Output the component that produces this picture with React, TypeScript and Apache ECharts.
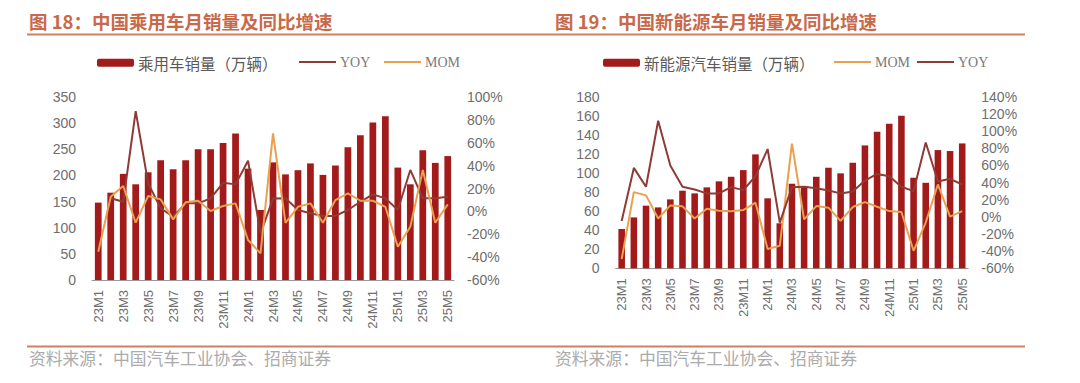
import React, { useEffect, useRef } from "react";
import * as echarts from "echarts";

const months = [
  "23M1", "23M2", "23M3", "23M4", "23M5", "23M6", "23M7", "23M8", "23M9", "23M10", "23M11", "23M12",
  "24M1", "24M2", "24M3", "24M4", "24M5", "24M6", "24M7", "24M8", "24M9", "24M10", "24M11", "24M12",
  "25M1", "25M2", "25M3", "25M4", "25M5",
];

// Figure 18: passenger car sales (10k units), YOY %, MOM %
const carSales = [148, 167, 203, 183, 206, 229, 212, 229, 250, 250, 262, 280, 213, 134, 225, 202, 210, 223, 201, 219, 254, 277, 301, 313, 215, 183, 248, 224, 237];
const carYoy = [null, 11.4, 8.4, 87.7, 24.5, 2.7, -4.6, 7, 7, 11.4, 25, 23.6, 44.3, -19.2, 11.2, 11.4, 1.2, -1.7, -4, -4, 1.2, 8.4, 14.9, 11.4, 1.2, 36.2, 11.4, 11.4, 12.8];
const carMom = [-35.3, 12.8, 22.2, -9.9, 13.4, 10.5, -7, 7.9, 9.3, 0.3, 4.7, 7, -25, -36.7, 68.2, -10, 4, 7, -10, 9.9, 15.8, 9.3, 9.3, 4, -30.9, -13.5, 36.2, -10, 6.1];

// Figure 19: NEV sales (10k units), MOM %, YOY %
const nevSales = [41.2, 53.4, 65.7, 63.9, 72.3, 81.4, 78.6, 84.9, 91.2, 96, 103, 119.5, 73.4, 47.2, 88.7, 85.5, 96, 105.5, 99.6, 110.7, 128.9, 143.2, 151.6, 160, 95, 89.7, 124, 123, 131];
const nevMom = [-49.2, 28.8, 25, -2, 13.3, 12.2, -2, 9.5, 7.2, 6.4, 7.9, 16.5, -37.6, -33.8, 85.2, -2.9, 12.5, 10.7, -4.8, 11.4, 17.2, 11.8, 6.7, 5.6, -39.6, -6.7, 37.7, 0.3, 6.7];
const nevYoy = [-4.8, 57, 35, 112, 59.7, 35, 31.9, 27.3, 27.3, 34.6, 31.1, 47.3, 79, -6.7, 34.6, 35, 33.4, 30.7, 27.3, 29.6, 42.3, 50, 47.3, 35, 30, 86.7, 41.2, 44.3, 37.7];

const titleLeft = "图 18：中国乘用车月销量及同比增速";
const titleRight = "图 19：中国新能源车月销量及同比增速";
const source = "资料来源：中国汽车工业协会、招商证券";
const barNameLeft = "乘用车销量（万辆）";
const barNameRight = "新能源汽车销量（万辆）";

const BAR = "#a31a1a";
const YOY = "#8e3b36";
const MOM = "#e9a04f";
const ACCENT = "#c8694a";
const LINE = "#d0805f";
const LABEL = "#6e6e6e";

export default function App() {
  const ref = useRef<HTMLDivElement>(null);
  useEffect(() => {
    if (!ref.current) return;
    const chart = echarts.init(ref.current, null, { renderer: "svg" });

    const xAxisBase = (gridIndex: number) => ({
      type: "category",
      gridIndex,
      data: months,
      boundaryGap: true,
      axisLine: { lineStyle: { color: "#999", width: 1 } },
      axisTick: { inside: true, length: 4, interval: 1, lineStyle: { color: "#999" } },
      axisLabel: {
        rotate: 90,
        interval: 1,
        fontSize: 13,
        color: LABEL,
        margin: 10,
        fontFamily: "Liberation Sans, Arial, sans-serif",
      },
      splitLine: { show: false },
    });
    const yAxisBase = (gridIndex: number, min: number, max: number, pct: boolean, right: boolean) => ({
      type: "value",
      gridIndex,
      min,
      max,
      interval: 20,
      position: right ? "right" : "left",
      splitLine: { show: false },
      axisLine: { show: false },
      axisTick: { show: false },
      axisLabel: {
        fontSize: 14,
        color: LABEL,
        margin: right ? 13 : 16,
        fontFamily: "Liberation Sans, Arial, sans-serif",
        formatter: pct ? "{value}%" : "{value}",
      },
    });

    const legendItem = (left: number, name: string, isLine: boolean) => ({
      left,
      top: 55,
      padding: 0,
      itemWidth: 37,
      itemHeight: 8,
      itemGap: 4,
      selectedMode: false,
      data: [isLine ? { name, itemStyle: { opacity: 0 } } : { name }],
      textStyle: isLine
        ? { fontSize: 14, color: "#7a7a7a", fontFamily: "Liberation Serif, serif", padding: [0, 0, 0, -1] }
        : { fontSize: 15.5, color: "#595959", fontFamily: "Noto Sans CJK SC, sans-serif", padding: [0, 0, 0, -1] },
    });

    const y1 = yAxisBase(0, 0, 350, false, false) as any;
    y1.interval = 50;

    chart.setOption({
      animation: false,
      grid: [
        { left: 92, top: 97, width: 362, height: 183 },
        { left: 615.6, top: 96.7, width: 352.7, height: 171.6 },
      ],
      legend: [
        legendItem(97, barNameLeft, false),
        legendItem(298, "YOY", true),
        legendItem(383, "MOM", true),
        legendItem(603, barNameRight, false),
        legendItem(833, "MOM", true),
        legendItem(916, "YOY", true),
      ],
      xAxis: [xAxisBase(0), xAxisBase(1)],
      yAxis: [
        y1,
        yAxisBase(0, -60, 100, true, true),
        yAxisBase(1, 0, 180, false, false),
        yAxisBase(1, -60, 140, true, true),
      ],
      series: [
        {
          name: barNameLeft,
          type: "bar",
          xAxisIndex: 0,
          yAxisIndex: 0,
          data: carSales,
          barWidth: "54%",
          itemStyle: { color: BAR },
        },
        {
          name: "YOY",
          type: "line",
          xAxisIndex: 0,
          yAxisIndex: 1,
          data: carYoy,
          symbol: "none",
          lineStyle: { color: YOY, width: 2 },
          itemStyle: { color: YOY },
        },
        {
          name: "MOM",
          type: "line",
          xAxisIndex: 0,
          yAxisIndex: 1,
          data: carMom,
          symbol: "none",
          lineStyle: { color: MOM, width: 2 },
          itemStyle: { color: MOM },
        },
        {
          name: barNameRight,
          type: "bar",
          xAxisIndex: 1,
          yAxisIndex: 2,
          data: nevSales,
          barWidth: "54%",
          itemStyle: { color: BAR },
        },
        {
          name: "MOM",
          type: "line",
          xAxisIndex: 1,
          yAxisIndex: 3,
          data: nevMom,
          symbol: "none",
          lineStyle: { color: MOM, width: 2 },
          itemStyle: { color: MOM },
        },
        {
          name: "YOY",
          type: "line",
          xAxisIndex: 1,
          yAxisIndex: 3,
          data: nevYoy,
          symbol: "none",
          lineStyle: { color: YOY, width: 2 },
          itemStyle: { color: YOY },
        },
      ],
      graphic: [
        {
          type: "text",
          left: 29,
          top: 12,
          style: {
            text: titleLeft,
            fill: ACCENT,
            font: "bold 18.5px 'Noto Sans CJK SC', sans-serif",
          },
        },
        {
          type: "text",
          left: 555,
          top: 12,
          style: {
            text: titleRight,
            fill: ACCENT,
            font: "bold 18.5px 'Noto Sans CJK SC', sans-serif",
          },
        },
        {
          type: "line",
          shape: { x1: 27, y1: 34.5, x2: 1025, y2: 34.5 },
          style: { stroke: LINE, lineWidth: 2 },
        },
        {
          type: "line",
          shape: { x1: 27, y1: 346.5, x2: 1025, y2: 346.5 },
          style: { stroke: LINE, lineWidth: 2 },
        },
        {
          type: "text",
          left: 29,
          top: 350,
          style: {
            text: source,
            fill: "#ababab",
            font: "16.8px 'Noto Sans CJK SC', sans-serif",
          },
        },
        {
          type: "text",
          left: 555,
          top: 350,
          style: {
            text: source,
            fill: "#ababab",
            font: "16.8px 'Noto Sans CJK SC', sans-serif",
          },
        },
      ],
    });
    return () => chart.dispose();
  }, []);

  return (
    <div
      ref={ref}
      style={{ position: "fixed", left: 0, top: 0, width: 1080, height: 383, background: "#fff" }}
    />
  );
}
